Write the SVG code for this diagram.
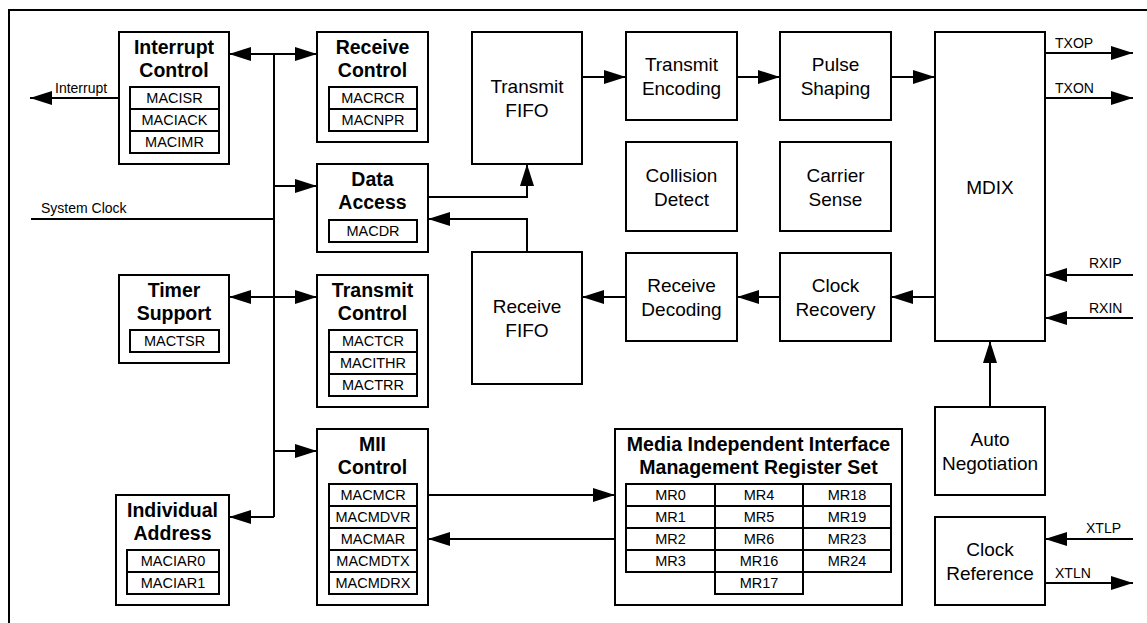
<svg xmlns="http://www.w3.org/2000/svg" width="1147" height="623" viewBox="0 0 1147 623">
<style>
.bx{fill:#fff;stroke:#000;stroke-width:2}
.rg{fill:#fff;stroke:#000;stroke-width:2}
.ttl{font-family:"Liberation Sans",Arial,sans-serif;font-weight:bold;font-size:19.5px;text-anchor:middle;fill:#000}
.txt{font-family:"Liberation Sans",Arial,sans-serif;font-size:19px;text-anchor:middle;fill:#000}
.reg{font-family:"Liberation Sans",Arial,sans-serif;font-size:14.5px;text-anchor:middle;fill:#000}
.lbl{font-family:"Liberation Sans",Arial,sans-serif;font-size:14px;fill:#000}
.cn{fill:none;stroke:#000;stroke-width:2}
.a{marker-end:url(#ah)}
.b{marker-start:url(#ah);marker-end:url(#ah)}
</style>
<defs>
<marker id="ah" markerUnits="userSpaceOnUse" markerWidth="22" markerHeight="14" refX="22" refY="7" orient="auto-start-reverse"><path d="M0,0 L22,7 L0,14 z" fill="#000"/></marker>
</defs>
<rect x="0" y="0" width="1147" height="623" fill="#fff"/>
<path d="M9,623 V10 H1147" fill="none" stroke="#000" stroke-width="2"/>

<g id="connectors">
<path class="cn" d="M274,54 V517"/>
<path class="cn b" d="M229,54 H317"/>
<path class="cn a" d="M274,186 H317"/>
<path class="cn" d="M31,219 H274"/>
<path class="cn b" d="M229,297 H317"/>
<path class="cn a" d="M274,451 H317"/>
<path class="cn a" d="M274,517 H229"/>
<path class="cn a" d="M119,98 H30"/>
<path class="cn a" d="M428,197 H527 V164"/>
<path class="cn a" d="M527,252 V219 H428"/>
<path class="cn a" d="M582,77 H626"/>
<path class="cn a" d="M737,77 H780"/>
<path class="cn a" d="M891,77 H935"/>
<path class="cn a" d="M935,297 H891"/>
<path class="cn a" d="M780,297 H737"/>
<path class="cn a" d="M626,297 H582"/>
<path class="cn a" d="M990,407 V341"/>
<path class="cn a" d="M1045,53 H1133"/>
<path class="cn a" d="M1045,98 H1133"/>
<path class="cn a" d="M1133,275 H1045"/>
<path class="cn a" d="M1133,318 H1045"/>
<path class="cn a" d="M1133,539 H1045"/>
<path class="cn a" d="M1045,583 H1133"/>
<path class="cn a" d="M428,495 H615"/>
<path class="cn a" d="M615,539 H428"/>
<text class="lbl" x="55" y="93">Interrupt</text>
<text class="lbl" x="41" y="213">System Clock</text>
<text class="lbl" x="1055" y="48">TXOP</text>
<text class="lbl" x="1055" y="93">TXON</text>
<text class="lbl" x="1089" y="268">RXIP</text>
<text class="lbl" x="1089" y="313">RXIN</text>
<text class="lbl" x="1086" y="533">XTLP</text>
<text class="lbl" x="1055" y="578">XTLN</text>
</g>

<g id="interrupt-control">
<rect class="bx" x="119" y="32" width="110" height="132"/>
<text class="ttl" x="174" y="54">Interrupt</text>
<text class="ttl" x="174" y="77">Control</text>
<rect class="rg" x="130" y="87" width="89" height="22"/>
<rect class="rg" x="130" y="109" width="89" height="22"/>
<rect class="rg" x="130" y="131" width="89" height="22"/>
<text class="reg" x="174.5" y="103">MACISR</text>
<text class="reg" x="174.5" y="125">MACIACK</text>
<text class="reg" x="174.5" y="147">MACIMR</text>
</g>

<g id="receive-control">
<rect class="bx" x="317" y="32" width="111" height="110"/>
<text class="ttl" x="372.5" y="54">Receive</text>
<text class="ttl" x="372.5" y="77">Control</text>
<rect class="rg" x="329" y="87" width="88" height="22"/>
<rect class="rg" x="329" y="109" width="88" height="22"/>
<text class="reg" x="373" y="103">MACRCR</text>
<text class="reg" x="373" y="125">MACNPR</text>
</g>

<g id="data-access">
<rect class="bx" x="317" y="164" width="111" height="88"/>
<text class="ttl" x="372.5" y="186">Data</text>
<text class="ttl" x="372.5" y="209">Access</text>
<rect class="rg" x="329" y="220" width="88" height="22"/>
<text class="reg" x="373" y="236">MACDR</text>
</g>

<g id="timer-support">
<rect class="bx" x="119" y="275" width="110" height="88"/>
<text class="ttl" x="174" y="297">Timer</text>
<text class="ttl" x="174" y="320">Support</text>
<rect class="rg" x="130" y="330" width="89" height="22"/>
<text class="reg" x="174.5" y="346">MACTSR</text>
</g>

<g id="transmit-control">
<rect class="bx" x="317" y="275" width="111" height="132"/>
<text class="ttl" x="372.5" y="297">Transmit</text>
<text class="ttl" x="372.5" y="320">Control</text>
<rect class="rg" x="329" y="330" width="88" height="22"/>
<rect class="rg" x="329" y="352" width="88" height="22"/>
<rect class="rg" x="329" y="374" width="88" height="22"/>
<text class="reg" x="373" y="346">MACTCR</text>
<text class="reg" x="373" y="368">MACITHR</text>
<text class="reg" x="373" y="390">MACTRR</text>
</g>

<g id="mii-control">
<rect class="bx" x="317" y="429" width="111" height="176"/>
<text class="ttl" x="372.5" y="451">MII</text>
<text class="ttl" x="372.5" y="474">Control</text>
<rect class="rg" x="329" y="484" width="88" height="22"/>
<rect class="rg" x="329" y="506" width="88" height="22"/>
<rect class="rg" x="329" y="528" width="88" height="22"/>
<rect class="rg" x="329" y="550" width="88" height="22"/>
<rect class="rg" x="329" y="572" width="88" height="22"/>
<text class="reg" x="373" y="500">MACMCR</text>
<text class="reg" x="373" y="522">MACMDVR</text>
<text class="reg" x="373" y="544">MACMAR</text>
<text class="reg" x="373" y="566">MACMDTX</text>
<text class="reg" x="373" y="588">MACMDRX</text>
</g>

<g id="individual-address">
<rect class="bx" x="116" y="495" width="113" height="110"/>
<text class="ttl" x="172.5" y="517">Individual</text>
<text class="ttl" x="172.5" y="540">Address</text>
<rect class="rg" x="127" y="550" width="92" height="22"/>
<rect class="rg" x="127" y="572" width="92" height="22"/>
<text class="reg" x="173" y="566">MACIAR0</text>
<text class="reg" x="173" y="588">MACIAR1</text>
</g>

<g id="transmit-fifo">
<rect class="bx" x="472" y="32" width="110" height="132"/>
<text class="txt" x="527" y="93">Transmit</text>
<text class="txt" x="527" y="117">FIFO</text>
</g>

<g id="receive-fifo">
<rect class="bx" x="472" y="252" width="110" height="132"/>
<text class="txt" x="527" y="313">Receive</text>
<text class="txt" x="527" y="337">FIFO</text>
</g>

<g id="transmit-encoding">
<rect class="bx" x="626" y="32" width="111" height="88"/>
<text class="txt" x="681.5" y="71">Transmit</text>
<text class="txt" x="681.5" y="95">Encoding</text>
</g>

<g id="pulse-shaping">
<rect class="bx" x="780" y="32" width="111" height="88"/>
<text class="txt" x="835.5" y="71">Pulse</text>
<text class="txt" x="835.5" y="95">Shaping</text>
</g>

<g id="collision-detect">
<rect class="bx" x="626" y="142" width="111" height="89"/>
<text class="txt" x="681.5" y="181.5">Collision</text>
<text class="txt" x="681.5" y="205.5">Detect</text>
</g>

<g id="carrier-sense">
<rect class="bx" x="780" y="142" width="111" height="89"/>
<text class="txt" x="835.5" y="181.5">Carrier</text>
<text class="txt" x="835.5" y="205.5">Sense</text>
</g>

<g id="receive-decoding">
<rect class="bx" x="626" y="253" width="111" height="88"/>
<text class="txt" x="681.5" y="292">Receive</text>
<text class="txt" x="681.5" y="316">Decoding</text>
</g>

<g id="clock-recovery">
<rect class="bx" x="780" y="253" width="111" height="88"/>
<text class="txt" x="835.5" y="292">Clock</text>
<text class="txt" x="835.5" y="316">Recovery</text>
</g>

<g id="mdix">
<rect class="bx" x="935" y="32" width="110" height="309"/>
<text class="txt" x="990" y="193.5">MDIX</text>
</g>

<g id="auto-negotiation">
<rect class="bx" x="935" y="407" width="110" height="88"/>
<text class="txt" x="990" y="446">Auto</text>
<text class="txt" x="990" y="470">Negotiation</text>
</g>

<g id="clock-reference">
<rect class="bx" x="935" y="517" width="110" height="88"/>
<text class="txt" x="990" y="556">Clock</text>
<text class="txt" x="990" y="580">Reference</text>
</g>

<g id="miim-register-set">
<rect class="bx" x="615" y="429" width="287" height="176"/>
<text class="ttl" x="758.5" y="451">Media Independent Interface</text>
<text class="ttl" x="758.5" y="474">Management Register Set</text>
<rect class="rg" x="626" y="484" width="89" height="22"/>
<rect class="rg" x="626" y="506" width="89" height="22"/>
<rect class="rg" x="626" y="528" width="89" height="22"/>
<rect class="rg" x="626" y="550" width="89" height="22"/>
<rect class="rg" x="715" y="484" width="88" height="22"/>
<rect class="rg" x="715" y="506" width="88" height="22"/>
<rect class="rg" x="715" y="528" width="88" height="22"/>
<rect class="rg" x="715" y="550" width="88" height="22"/>
<rect class="rg" x="715" y="572" width="88" height="22"/>
<rect class="rg" x="803" y="484" width="88" height="22"/>
<rect class="rg" x="803" y="506" width="88" height="22"/>
<rect class="rg" x="803" y="528" width="88" height="22"/>
<rect class="rg" x="803" y="550" width="88" height="22"/>
<text class="reg" x="670.5" y="500">MR0</text>
<text class="reg" x="670.5" y="522">MR1</text>
<text class="reg" x="670.5" y="544">MR2</text>
<text class="reg" x="670.5" y="566">MR3</text>
<text class="reg" x="759" y="500">MR4</text>
<text class="reg" x="759" y="522">MR5</text>
<text class="reg" x="759" y="544">MR6</text>
<text class="reg" x="759" y="566">MR16</text>
<text class="reg" x="759" y="588">MR17</text>
<text class="reg" x="847" y="500">MR18</text>
<text class="reg" x="847" y="522">MR19</text>
<text class="reg" x="847" y="544">MR23</text>
<text class="reg" x="847" y="566">MR24</text>
</g>
</svg>
